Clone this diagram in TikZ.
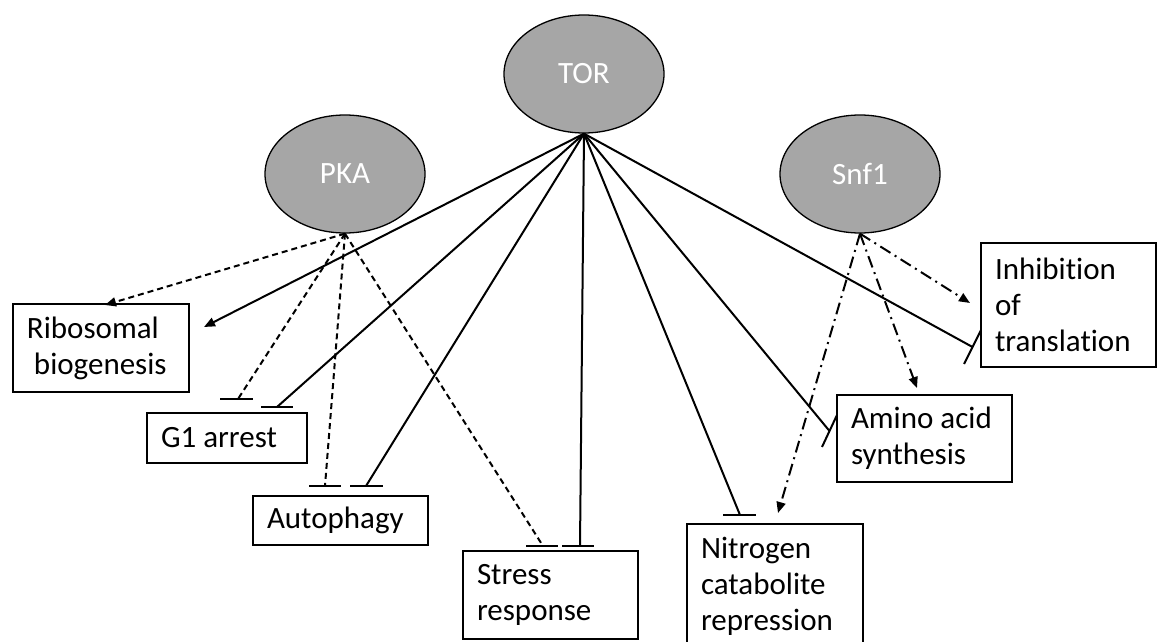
\documentclass[tikz,border=0pt]{standalone}
\usepackage{fontspec}
\setmainfont{Carlito}[Ligatures={NoCommon}]
\usetikzlibrary{shapes.geometric,arrows.meta}
\definecolor{ellgray}{HTML}{A6A6A6}
\tikzset{
  ell/.style={ellipse, draw=black, line width=1.3pt, fill=ellgray, minimum width=160pt, minimum height=118pt, inner sep=0pt, text=white, font=\fontsize{31}{36}\selectfont},
  box/.style={draw=black, line width=1.8pt, inner xsep=14pt, inner ysep=0pt, align=flush left, font=\fontsize{31}{36}\selectfont},
  tipa/.style={-{Triangle[length=11pt,width=9pt]}},
  tline/.style={line width=2pt},
  dline/.style={line width=2pt, dash pattern=on 6pt off 4pt},
  ddline/.style={line width=2pt, dash pattern=on 12pt off 5pt on 2pt off 5pt},
  barl/.style={line width=2pt},
}
\begin{document}
\begin{tikzpicture}[x=1pt,y=-1pt]
\clip (0,0) rectangle (1160,642);
\fill[white] (0,0) rectangle (1160,642);
% kinases
\node[ell] (tor) at (584,74) {TOR};
\node[ell] (pka) at (345,174) {PKA};
\node[ell] (snf) at (860,174) {Snf1};
% targets
\node[box, text width=148pt, minimum height=88pt] (rib) at (101,348) {Ribosomal\\\hspace*{7pt}biogenesis};
\node[box, text width=132pt, minimum height=50pt] (g1) at (227,438) {G1 arrest};
\node[box, text width=147pt, minimum height=49pt] (auto) at (340.5,520.5) {Autophagy};
\node[box, text width=147pt, minimum height=88pt] (stress) at (550.5,595) {Stress\\response};
\node[box, text width=148pt, minimum height=124pt] (nitro) at (775,586) {Nitrogen\\catabolite\\repression};
\node[box, text width=147pt, minimum height=87pt] (amino) at (924.5,438.5) {Amino acid\\synthesis};
\node[box, text width=147pt, minimum height=124pt] (inhib) at (1068.5,305) {Inhibition\\of\\translation};
% end points
\coordinate (tRib) at (204,327);
\coordinate (tG1) at (277,407);
\coordinate (tAuto) at (366,486);
\coordinate (tStress) at (580,546);
\coordinate (tNitro) at (740,515);
\coordinate (tAmino) at (829.5,431);
\coordinate (tInhib) at (972.5,347);
\coordinate (pRib) at (105,305);
\coordinate (pG1) at (238,399);
\coordinate (pAuto) at (325,486);
\coordinate (pStress) at (543,546);
\coordinate (sInhib) at (970,303);
\coordinate (sAmino) at (917,388);
\coordinate (sNitro) at (778,513);
% TOR connectors
\draw[tline,tipa] (tor.south) -- (tRib);
\draw[tline] (tor.south) -- (tG1);
\draw[barl] ([xshift=-16pt]tG1) -- ([xshift=16pt]tG1);
\draw[tline] (tor.south) -- (tAuto);
\draw[barl] ([xshift=-16pt]tAuto) -- ([xshift=17pt]tAuto);
\draw[tline] (tor.south) -- (tStress);
\draw[barl] ([xshift=-18pt]tStress) -- ([xshift=14pt]tStress);
\draw[tline] (tor.south) -- (tNitro);
\draw[barl] ([xshift=-17pt]tNitro) -- ([xshift=16pt]tNitro);
\draw[tline] (tor.south) -- (tAmino);
\draw[barl] ([shift={(-7.5,16)}]tAmino) -- ([shift={(7.5,-16)}]tAmino);
\draw[tline] (tor.south) -- (tInhib);
\draw[barl] ([shift={(-8.5,17)}]tInhib) -- ([shift={(8.5,-17)}]tInhib);
% PKA connectors
\draw[dline,tipa] (pka.south) -- (pRib);
\draw[dline] (pka.south) -- (pG1);
\draw[barl] ([xshift=-18pt]pG1) -- ([xshift=15pt]pG1);
\draw[dline] (pka.south) -- (pAuto);
\draw[barl] ([xshift=-16pt]pAuto) -- ([xshift=16pt]pAuto);
\draw[dline] (pka.south) -- (pStress);
\draw[barl] ([xshift=-17pt]pStress) -- ([xshift=15pt]pStress);
% Snf1 connectors
\draw[ddline,tipa] (snf.south) -- (sInhib);
\draw[ddline,tipa] (snf.south) -- (sAmino);
\draw[ddline,tipa] (snf.south) -- (sNitro);
\end{tikzpicture}
\end{document}
